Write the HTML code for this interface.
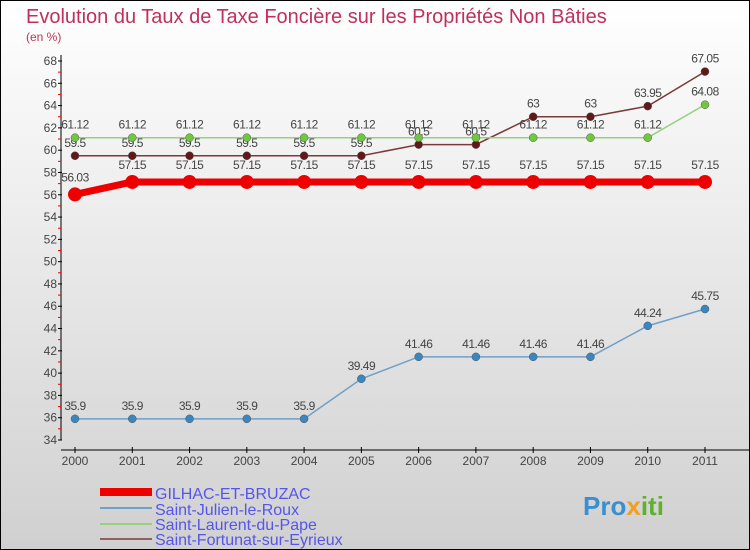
<!DOCTYPE html>
<html><head><meta charset="utf-8"><style>
body{margin:0}
#c{width:750px;height:550px;position:relative;overflow:hidden}
text{font-family:"Liberation Sans",sans-serif}
</style></head><body>
<div id="c">
<svg id="s" width="750" height="550" xmlns="http://www.w3.org/2000/svg">
<defs><linearGradient id="bg" x1="0" y1="0" x2="0" y2="1"><stop offset="0" stop-color="#ffffff"/><stop offset="1" stop-color="#d0d0d0"/></linearGradient></defs>
<rect x="0.5" y="0.5" width="749" height="549" fill="url(#bg)" stroke="#000"/>
<text x="26" y="23" font-size="20" fill="#c0305a">Evolution du Taux de Taxe Foncière sur les Propriétés Non Bâties</text>
<text x="26" y="41" font-size="12" fill="#c0305a">(en %)</text>
<g id="axes"></g><g id="series"></g>
<g>
<rect x="100" y="488" width="52" height="8" fill="#ee0000"/>
<text x="155" y="499" font-size="16" fill="#5555ee">GILHAC-ET-BRUZAC</text>
<rect x="100" y="507" width="52" height="2" fill="#6fa0c8"/>
<text x="155" y="515" font-size="16" fill="#5555ee">Saint-Julien-le-Roux</text>
<rect x="100" y="523" width="52" height="2" fill="#98d080"/>
<text x="155" y="530" font-size="16" fill="#5555ee">Saint-Laurent-du-Pape</text>
<rect x="100" y="538" width="52" height="2" fill="#906060"/>
<text x="155" y="545" font-size="16" fill="#5555ee">Saint-Fortunat-sur-Eyrieux</text>
</g>
<g>
<text x="583" y="515" font-size="26" font-weight="bold" fill="#3a8fd0">Pro<tspan fill="#f0a020">x</tspan><tspan fill="#60b030">iti</tspan></text>
</g>
</svg></div>
<script>
const years=[2000,2001,2002,2003,2004,2005,2006,2007,2008,2009,2010,2011];
const yTicks=[34,36,38,40,42,44,46,48,50,52,54,56,58,60,62,64,66,68];
const gilhac=[56.03,57.15,57.15,57.15,57.15,57.15,57.15,57.15,57.15,57.15,57.15,57.15];
const julien=[35.9,35.9,35.9,35.9,35.9,39.49,41.46,41.46,41.46,41.46,44.24,45.75];
const laurent=[61.12,61.12,61.12,61.12,61.12,61.12,61.12,61.12,61.12,61.12,61.12,64.08];
const fortunat=[59.5,59.5,59.5,59.5,59.5,59.5,60.5,60.5,63,63,63.95,67.05];
const NS="http://www.w3.org/2000/svg";
const X=i=>75+i*(630/11);
const Y=v=>440-(v-34)*(379/34);
function mk(t,a,p){const e=document.createElementNS(NS,t);for(const k in a)e.setAttribute(k,a[k]);p.appendChild(e);return e;}
const ax=document.getElementById('axes');
let l=mk('line',{x1:61,y1:55,x2:61,y2:440,stroke:'#000'},ax);


l=mk('line',{x1:61,y1:450,x2:750,y2:450,stroke:'#000'},ax);


yTicks.forEach((v,i)=>{
  mk('line',{x1:58,y1:Y(v),x2:62,y2:Y(v),stroke:'#000'},ax);
  if(i<yTicks.length-1)mk('line',{x1:58,y1:Y(v+1),x2:61,y2:Y(v+1),stroke:'#e00'},ax);
  const t=mk('text',{x:57,y:Y(v)+4,'font-size':12,fill:'#444','text-anchor':'end'},ax);
  t.textContent=v;
  
  
});
years.forEach((y,i)=>{
  mk('line',{x1:X(i),y1:447,x2:X(i),y2:453,stroke:'#000'},ax);
  const t=mk('text',{x:X(i),y:465,'font-size':12,fill:'#444','text-anchor':'middle'},ax);
  t.textContent=y;
  
  
});
const sg=document.getElementById('series');
function draw(vals,name,color,w,r,dot,dy){
  const g=mk('g',{},sg);
  
  
  mk('polyline',{points:vals.map((v,i)=>X(i)+','+Y(v)).join(' '),fill:'none',stroke:color,'stroke-width':w},g);
  vals.forEach((v,i)=>{
    const c=mk('circle',{cx:X(i),cy:Y(v),r:r,fill:dot,stroke:w>3?'none':'#555','stroke-width':0.5},g);
    
    
    const t=mk('text',{x:X(i),y:Y(v)+dy,'font-size':12,fill:'#444','text-anchor':'middle','letter-spacing':'-0.5'},g);
    t.textContent=v;
    
    
  });
}
draw(julien,'julien','#6fa0c8',1.5,4,'#3a86c0',-9);
draw(fortunat,'fortunat','#7a3a3a',1.5,4,'#601818',-9);
draw(laurent,'laurent','#98d080',1.5,4,'#70c840',-9);
draw(gilhac,'gilhac','#ee0000',7,7,'#ee0000',-13);
</script>
</body></html>
